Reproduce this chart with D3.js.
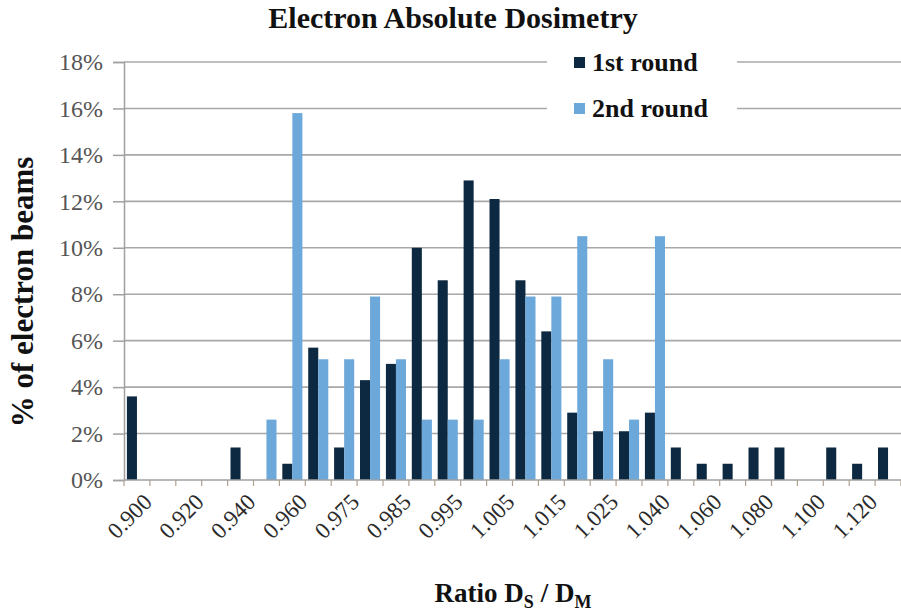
<!DOCTYPE html>
<html>
<head>
<meta charset="utf-8">
<script src="https://cdn.jsdelivr.net/npm/d3@7"></script>
<style>
  body { margin: 0; background: #fff; }
  svg, svg text { font-family: "Liberation Serif", "Times New Roman", serif; }
</style>
</head>
<body>
<svg id="chart" width="901" height="614"></svg>
<script>
/* ===========================================================
   Electron Absolute Dosimetry histogram
   =========================================================== */

const SERIF = '"Liberation Serif", "Times New Roman", serif';

const categories = [
  '0.900', '0.910', '0.920', '0.930', '0.940', '0.950', '0.960', '0.970',
  '0.975', '0.980', '0.985', '0.990', '0.995', '1.000', '1.005', '1.010',
  '1.015', '1.020', '1.025', '1.030', '1.040', '1.050', '1.060', '1.070',
  '1.080', '1.090', '1.100', '1.110', '1.120', '1.130'
];
const labelledCategories = [
  '0.900', '0.920', '0.940', '0.960', '0.975', '0.985', '0.995', '1.005',
  '1.015', '1.025', '1.040', '1.060', '1.080', '1.100', '1.120'
];
const round1 = [
  3.6, 0, 0, 0, 1.4, 0, 0.7, 5.7, 1.4, 4.3, 5.0, 10.0, 8.6, 12.9, 12.1, 8.6,
  6.4, 2.9, 2.1, 2.1, 2.9, 1.4, 0.7, 0.7, 1.4, 1.4, 0, 1.4, 0.7, 1.4
];
const round2 = [
  0, 0, 0, 0, 0, 2.6, 15.8, 5.2, 5.2, 7.9, 5.2, 2.6, 2.6, 2.6, 5.2, 7.9,
  7.9, 10.5, 5.2, 2.6, 10.5, 0, 0, 0, 0, 0, 0, 0, 0, 0
];
const seriesNames = ['1st round', '2nd round'];
const yTicks = [0, 2, 4, 6, 8, 10, 12, 14, 16, 18];

const COLORS = { '1st round': '#0d2941', '2nd round': '#6ca8da' };

function drawChart() {
  const margin = { top: 62, right: 0, bottom: 134, left: 124 };
  const w = 901, h = 614;
  const W = w - margin.left - margin.right;
  const H = h - margin.top - margin.bottom;

  const svg = d3.select('#chart');
  svg.selectAll('*').remove();
  const g = svg.append('g').attr('transform', `translate(${margin.left},${margin.top})`);

  const x = d3.scaleBand().domain(categories).range([0, W]).padding(0);
  const xs = d3.scaleBand().domain(seriesNames).range([0, x.bandwidth()])
    .paddingInner(0).paddingOuter(0.29);
  const y = d3.scaleLinear().domain([0, 18]).range([H, 0]);

  // grid lines
  g.selectAll('.grid')
    .data(yTicks.filter(d => d > 0)).enter().append('line')
      .attr('x1', 0).attr('x2', W)
      .attr('y1', d => y(d)).attr('y2', d => y(d))
      .attr('stroke', '#a8a8a8')
      .attr('stroke-width', 1.6);

  // y axis
  const yAxis = g.append('g')
    .call(d3.axisLeft(y).tickValues(yTicks).tickSize(11).tickPadding(10)
      .tickFormat(d => d + '%'))
    .attr('font-family', SERIF);
  yAxis.select('.domain').attr('stroke', '#a0a0a0').attr('stroke-width', 1.5);
  yAxis.selectAll('.tick line').attr('stroke', '#a0a0a0').attr('stroke-width', 1.5);
  yAxis.selectAll('.tick text')
    .attr('font-family', SERIF)
    .attr('font-size', 24)
    .attr('fill', '#555');

  // bars
  const data = [];
  categories.forEach((c, i) => {
    data.push({ cat: c, series: '1st round', value: round1[i] });
    data.push({ cat: c, series: '2nd round', value: round2[i] });
  });

  g.selectAll('.bar')
    .data(data.filter(d => d.value > 0)).enter().append('rect')
      .attr('class', 'bar')
      .attr('x', d => x(d.cat) + xs(d.series))
      .attr('width', xs.bandwidth())
      .attr('y', d => y(d.value))
      .attr('height', d => H - y(d.value))
      .attr('fill', d => COLORS[d.series]);

  // x axis
  const xAxis = g.append('g').attr('transform', `translate(0,${H})`);
  xAxis.append('line')
    .attr('x1', 0).attr('x2', W)
    .attr('stroke', '#a0a0a0').attr('stroke-width', 1.5);
  xAxis.selectAll('.xtick')
    .data(categories.concat(['end'])).enter().append('line')
      .attr('x1', d => d === 'end' ? W : x(d))
      .attr('x2', d => d === 'end' ? W : x(d))
      .attr('y1', 0).attr('y2', 6)
      .attr('stroke', '#b0a090').attr('stroke-width', 1.2);
  xAxis.selectAll('.xlabel')
    .data(labelledCategories).enter().append('text')
      .attr('transform', d =>
        `translate(${x(d) + x.bandwidth() / 2 + 5},${12}) rotate(-45)`)
      .attr('text-anchor', 'end')
      .attr('dy', '0.7em')
      .attr('font-family', SERIF)
      .attr('font-size', 23)
      .attr('fill', '#2a2a2a')
      .text(d => d);

  // legend
  const legend = svg.append('g');
  legend.append('rect')
    .attr('x', 547).attr('y', 38).attr('width', 190).attr('height', 92)
    .attr('fill', '#fff');
  seriesNames.forEach((s, i) => {
    legend.append('rect')
      .attr('x', 574).attr('y', 57 + i * 46)
      .attr('width', 11).attr('height', 11)
      .attr('fill', COLORS[s]);
    legend.append('text')
      .attr('x', 592).attr('y', 71 + i * 45.5)
      .attr('font-family', SERIF)
      .attr('font-size', 26)
      .attr('font-weight', 'bold')
      .attr('fill', '#111')
      .text(s);
  });

  // title
  svg.append('text')
    .attr('x', 453).attr('y', 28)
    .attr('text-anchor', 'middle')
    .attr('font-family', SERIF)
    .attr('font-size', 30)
    .attr('font-weight', 'bold')
    .attr('fill', '#111')
    .text('Electron Absolute Dosimetry');

  // y axis title
  svg.append('text')
    .attr('transform', 'translate(33,292) rotate(-90)')
    .attr('text-anchor', 'middle')
    .attr('font-family', SERIF)
    .attr('font-size', 31)
    .attr('font-weight', 'bold')
    .attr('fill', '#111')
    .text('% of electron beams');

  // x axis title with subscripts
  const xt = svg.append('text')
    .attr('x', 513).attr('y', 602)
    .attr('text-anchor', 'middle')
    .attr('font-family', SERIF)
    .attr('font-size', 27)
    .attr('font-weight', 'bold')
    .attr('fill', '#111');
  xt.append('tspan').text('Ratio D');
  xt.append('tspan').attr('font-size', 18).attr('dy', 6).text('S');
  xt.append('tspan').attr('dy', -6).text(' / D');
  xt.append('tspan').attr('font-size', 18).attr('dy', 6).text('M');
}

drawChart();
</script>
</body>
</html>
